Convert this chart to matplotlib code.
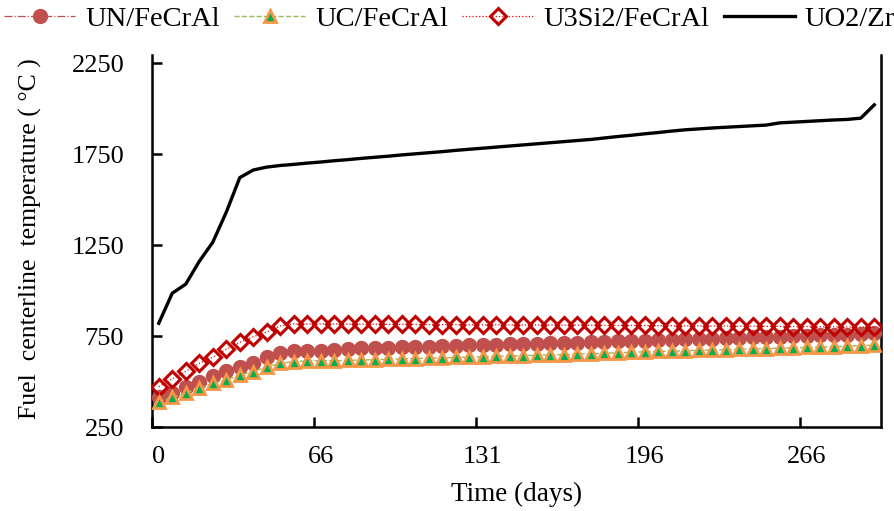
import numpy as np
import matplotlib
matplotlib.use('Agg')
import matplotlib.pyplot as plt

plt.rcParams['font.family'] = ['Liberation Serif', 'DejaVu Serif']

# categorias (54 pasos de tiempo), etiquetas cada 12 pasos
n_steps = 54
tick_days = ['0', '66', '131', '196', '266']

uo2_zr = [820, 985, 1035, 1160, 1265, 1430, 1620, 1662, 1678, 1687,
          1693, 1700, 1706, 1713, 1719, 1726, 1732, 1738, 1745, 1751,
          1757, 1763, 1770, 1776, 1782, 1788, 1794, 1800, 1806, 1812,
          1818, 1824, 1830, 1838, 1846, 1853, 1861, 1868, 1876, 1883,
          1888, 1893, 1897, 1901, 1905, 1909, 1921, 1925, 1929, 1933,
          1937, 1940, 1947, 2020]

u3si2_fecral = [471, 514, 556, 600, 633, 677, 715, 746, 772, 805,
                816, 816, 816, 816, 815, 815, 815, 814, 814, 814,
                813, 813, 813, 812, 812, 812, 811, 811, 811, 810,
                810, 810, 809, 809, 808, 808, 808, 807, 807, 806,
                806, 805, 805, 804, 804, 803, 803, 802, 802, 801,
                801, 800, 799, 798]

un_fecral = [413, 438, 468, 499, 530, 559, 581, 603, 633, 655,
             669, 669, 670, 673, 680, 682, 684, 686, 688, 690,
             692, 694, 696, 698, 700, 702, 704, 706, 708, 710,
             712, 714, 716, 718, 720, 722, 725, 727, 729, 731,
             734, 736, 738, 740, 743, 745, 747, 749, 752, 754,
             756, 758, 761, 764]

uc_fecral = [389, 413, 438, 463, 490, 508, 536, 554, 581, 600,
             609, 613, 614, 614, 616, 618, 620, 622, 624, 626,
             628, 630, 632, 634, 636, 638, 640, 642, 644, 646,
             648, 650, 652, 655, 658, 661, 663, 665, 667, 669,
             671, 673, 675, 677, 679, 681, 683, 685, 687, 689,
             691, 694, 697, 700]

x = np.arange(n_steps)

W, H = 895, 511
fig = plt.figure(figsize=(W / 100, H / 100), dpi=100)
ax = fig.add_axes([152 / W, 1 - 427 / H, (881 - 152) / W, (427 - 55) / H])

ax.plot(x, un_fecral, color='#C0504D', lw=0.9, ls='-.', marker='o', ms=10,
        mfc='#C0504D', mec='#C0504D', label='UN/FeCrAl', zorder=3)
ax.plot(x, uc_fecral, color='#9BBB59', lw=1.0, ls='--', marker='^', ms=8.5,
        mfc='#00B050', mec='#F79646', mew=2.0, label='UC/FeCrAl', zorder=4)
ax.plot(x, u3si2_fecral, color='#FF0000', lw=0.9, ls=':', marker='D', ms=8,
        mfc='none', mec='#C00000', mew=2.2, label='U3Si2/FeCrAl', zorder=3)
ax.plot(x, uo2_zr, color='black', lw=2.4, ls='-', label='UO2/Zr', zorder=5)

ax.set_xlim(-0.5, n_steps - 0.5)
ax.set_ylim(250, 2294)
ax.set_yticks([250, 750, 1250, 1750, 2250])

# marcas entre categorias, etiquetas centradas en la categoria
ax.set_xticks(np.arange(0, 60, 12) - 0.5)
ax.set_xticklabels([])
ax.set_xticks(np.arange(0, 60, 12), minor=True)
ax.set_xticklabels(tick_days, minor=True)
ax.tick_params(axis='x', which='major', direction='in', length=7, width=1.8)
ax.tick_params(axis='x', which='minor', length=0, pad=14, labelsize=19)
ax.tick_params(axis='y', direction='in', length=7, width=1.8, pad=20, labelsize=19)

for side in ['left', 'bottom', 'right']:
    ax.spines[side].set_linewidth(1.8)
ax.spines['top'].set_visible(False)

fig.text(30 / W, 1 - 239 / H, 'Fuel  centerline  temperature ( °C )',
         rotation=90, ha='center', va='center', fontsize=18.5)
fig.text(517 / W, 1 - 494 / H, 'Time (days)', ha='center', va='center', fontsize=19.5)

fig.legend(loc='upper left', bbox_to_anchor=(0.0, 0.997), ncol=4, frameon=False,
           fontsize=20.5, handlelength=2.5, handletextpad=0.35, columnspacing=0.5,
           borderaxespad=0.0, borderpad=0.15)

fig.savefig('out.png', dpi=100)
